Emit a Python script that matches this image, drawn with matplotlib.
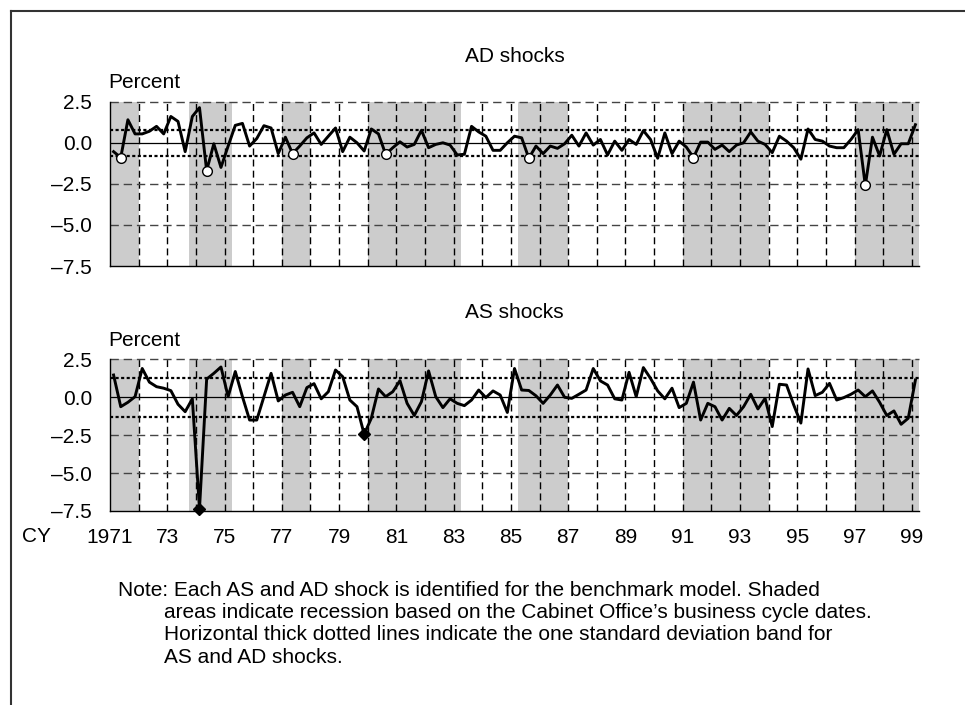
import numpy as np
import matplotlib
matplotlib.use('Agg')
import matplotlib.pyplot as plt
from matplotlib.lines import Line2D

plt.rcParams['font.family'] = ['Liberation Sans', 'DejaVu Sans']
plt.rcParams['font.size'] = 15

# Quarterly shocks, 1971Q1 - 1999Q1 (percent)
ad_shocks = [
    -0.54, -0.90, 1.40, 0.54,    # 1971
    0.54, 0.70, 1.00, 0.54,      # 1972
    1.60, 1.30, -0.54, 1.60,     # 1973
    2.14, -1.70, -0.06, -1.50,   # 1974
    -0.20, 1.06, 1.18, -0.20,    # 1975
    0.26, 1.04, 0.90, -0.66,     # 1976
    0.34, -0.66, -0.20, 0.30,    # 1977
    0.60, -0.10, 0.40, 0.90,     # 1978
    -0.54, 0.34, 0.00, -0.50,    # 1979
    0.84, 0.54, -0.70, -0.30,    # 1980
    0.06, -0.26, -0.10, 0.76,    # 1981
    -0.30, -0.10, 0.00, -0.14,   # 1982
    -0.74, -0.70, 1.00, 0.66,    # 1983
    0.40, -0.46, -0.46, 0.00,    # 1984
    0.40, 0.30, -0.94, -0.20,    # 1985
    -0.66, -0.20, -0.34, -0.06,  # 1986
    0.46, -0.20, 0.60, -0.14,    # 1987
    0.20, -0.74, 0.10, -0.46,    # 1988
    0.20, -0.10, 0.74, 0.20,     # 1989
    -0.94, 0.60, -0.66, 0.10,    # 1990
    -0.26, -0.90, 0.04, 0.04,    # 1991
    -0.40, -0.14, -0.54, -0.14,  # 1992
    0.00, 0.66, 0.10, -0.10,     # 1993
    -0.60, 0.40, 0.10, -0.30,    # 1994
    -1.00, 0.84, 0.20, 0.10,     # 1995
    -0.20, -0.30, -0.30, 0.20,   # 1996
    0.80, -2.60, 0.34, -0.80,    # 1997
    0.80, -0.70, -0.06, -0.06,   # 1998
    1.10,                        # 1999
]

as_shocks = [
    1.47, -0.62, -0.33, 0.04,    # 1971
    1.90, 1.00, 0.70, 0.60,      # 1972
    0.44, -0.46, -0.95, -0.10,   # 1973
    -7.36, 1.20, 1.58, 2.00,     # 1974
    0.04, 1.70, 0.04, -1.50,     # 1975
    -1.50, 0.04, 1.58, -0.24,    # 1976
    0.15, 0.33, -0.62, 0.64,     # 1977
    0.90, -0.10, 0.37, 1.80,     # 1978
    1.36, -0.18, -0.62, -2.44,   # 1979
    -1.38, 0.55, 0.04, 0.37,     # 1980
    1.10, -0.40, -1.20, -0.29,   # 1981
    1.74, 0.04, -0.68, -0.10,    # 1982
    -0.40, -0.55, -0.18, 0.48,   # 1983
    -0.02, 0.42, 0.15, -1.00,    # 1984
    1.90, 0.48, 0.45, 0.10,      # 1985
    -0.40, 0.15, 0.81, 0.00,     # 1986
    -0.07, 0.20, 0.48, 1.90,     # 1987
    1.08, 0.81, -0.10, -0.18,    # 1988
    1.65, 0.04, 1.96, 1.25,      # 1989
    0.42, -0.10, 0.60, -0.68,    # 1990
    -0.40, 1.00, -1.50, -0.40,   # 1991
    -0.62, -1.50, -0.73, -1.20,  # 1992
    -0.62, 0.20, -0.77, -0.07,   # 1993
    -1.93, 0.86, 0.81, -0.50,    # 1994
    -1.70, 1.87, 0.11, 0.33,     # 1995
    0.92, -0.18, -0.02, 0.20,    # 1996
    0.48, 0.04, 0.42, -0.33,     # 1997
    -1.20, -0.90, -1.78, -1.38,  # 1998
    1.14,                        # 1999
]

# quarters plotted at mid-quarter
quarters = 1971 + 0.125 + 0.25 * np.arange(len(ad_shocks))

# marked shocks
ad_marked = ['1971Q2', '1974Q2', '1977Q2', '1980Q3', '1985Q3', '1991Q2', '1997Q2']
as_marked = ['1974Q1', '1979Q4']

# one standard deviation bands
ad_sd = 0.8
as_sd = 1.3

# recession periods (Cabinet Office business cycle dates)
recessions = [(1970.75, 1972.0), (1973.75, 1975.25), (1977.0, 1978.0),
              (1980.0, 1983.25), (1985.25, 1987.0), (1991.0, 1994.0),
              (1997.0, 1999.25)]

yticks = [2.5, 0.0, -2.5, -5.0, -7.5]
ytick_labels = ['2.5', '0.0', '\u20132.5', '\u20135.0', '\u20137.5']
xtick_years = list(range(1971, 2000, 2))
xtick_labels = ['1971'] + ['%02d' % (y % 100) for y in xtick_years[1:]]


def q_index(q):
    year, qq = q.split('Q')
    return (int(year) - 1971) * 4 + int(qq) - 1


W, H = 965, 705
fig = plt.figure(figsize=(W / 100, H / 100), dpi=100)

ax_ad = fig.add_axes([110 / W, 1 - 266 / H, 809 / W, 164.3 / H])
ax_as = fig.add_axes([110 / W, 1 - 511 / H, 809 / W, 151.6 / H])


def draw_panel(ax, vals, sd, marked, marker):
    ax.set_xlim(1971, 1999.25)
    ax.set_ylim(-7.5, 2.5)
    for a, b in recessions:
        ax.axvspan(a, b, color='#cccccc', lw=0, zorder=0)
    for yr in range(1972, 2000):
        ax.axvline(yr, color='black', lw=1.0, ls=(0, (5, 3)), zorder=1)
    for y in [2.5, -2.5, -5.0]:
        ax.axhline(y, color='#444444', lw=1.0, ls=(0, (6, 3.5)), zorder=1, clip_on=False)
    ax.axhline(0, color='black', lw=0.9, zorder=2)
    ax.axhline(sd, color='black', lw=1.6, ls=(0, (1.4, 1.1)), zorder=2)
    ax.axhline(-sd, color='black', lw=1.6, ls=(0, (1.4, 1.1)), zorder=2)
    ax.plot(quarters, vals, color='black', lw=2.1, zorder=3, clip_on=False)
    idx = [q_index(q) for q in marked]
    mx = [quarters[i] for i in idx]
    my = [vals[i] for i in idx]
    if marker == 'o':
        ax.plot(mx, my, 'o', ms=7, mfc='white', mec='black', mew=1.0, zorder=4, clip_on=False)
    else:
        ax.plot(mx, my, 'D', ms=6, mfc='black', mec='black', zorder=4, clip_on=False)
    ax.set_yticks(yticks)
    ax.set_yticklabels(ytick_labels)
    ax.set_xticks(xtick_years)
    ax.tick_params(length=0, pad=13)
    for s in ['top', 'right']:
        ax.spines[s].set_visible(False)
    ax.spines['left'].set_linewidth(1.0)
    ax.spines['bottom'].set_linewidth(1.0)
    ax.spines['left'].set_zorder(5)
    ax.spines['bottom'].set_zorder(5)


draw_panel(ax_ad, ad_shocks, ad_sd, ad_marked, 'o')
draw_panel(ax_as, as_shocks, as_sd, as_marked, 'D')
ax_ad.set_xticklabels([])
ax_as.set_xticklabels(xtick_labels)
ax_as.tick_params(axis='x', pad=12)

# titles and unit labels
fig.text(514.5 / W, 1 - 57 / H, 'AD shocks', ha='center', va='center')
fig.text(108 / W, 1 - 83 / H, 'Percent', ha='left', va='center')
fig.text(514.5 / W, 1 - 313 / H, 'AS shocks', ha='center', va='center')
fig.text(108 / W, 1 - 340 / H, 'Percent', ha='left', va='center')
fig.text(22 / W, 1 - 537 / H, 'CY', ha='left', va='center')

# note
note_first = 'Note: Each AS and AD shock is identified for the benchmark model. Shaded'
note_rest = [
    'areas indicate recession based on the Cabinet Office\u2019s business cycle dates.',
    'Horizontal thick dotted lines indicate the one standard deviation band for',
    'AS and AD shocks.',
]
fig.text(118 / W, 1 - 590 / H, note_first, ha='left', va='center')
for i, line in enumerate(note_rest):
    fig.text(164 / W, 1 - (612.5 + 22.5 * i) / H, line, ha='left', va='center')

# frame
fig.add_artist(Line2D([11 / W, 1], [1 - 11 / H, 1 - 11 / H], transform=fig.transFigure,
                      color='#333333', lw=1.5))
fig.add_artist(Line2D([11 / W, 11 / W], [0, 1 - 11 / H], transform=fig.transFigure,
                      color='#333333', lw=1.5))

fig.savefig('out.png', dpi=100)
